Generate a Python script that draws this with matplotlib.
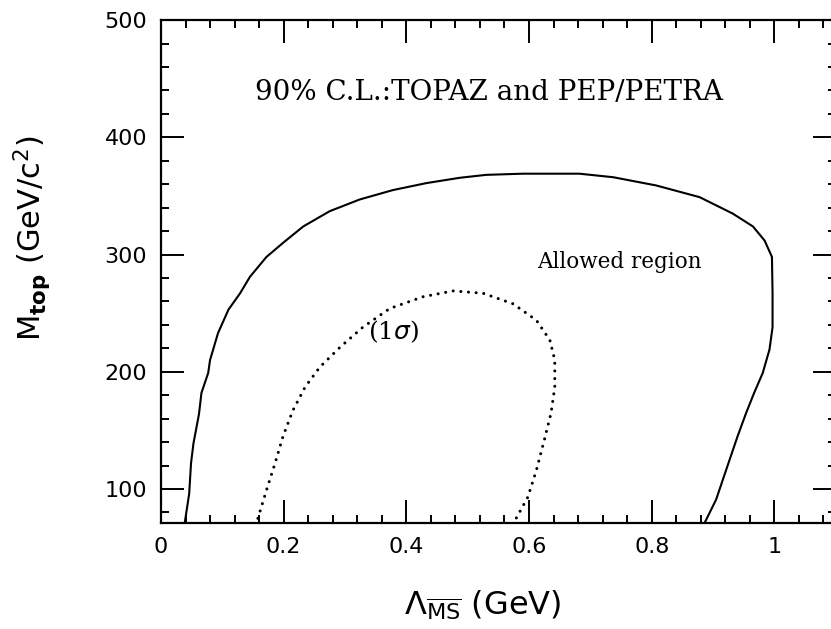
import matplotlib.pyplot as plt
from matplotlib.ticker import MultipleLocator

# 90% C.L. contour (solid), traced from lower-left, over the top, down the right side
cl90_x = [0.039, 0.046, 0.049, 0.053, 0.062, 0.066, 0.077, 0.080, 0.093, 0.110,
          0.129, 0.145, 0.172, 0.199, 0.232, 0.275, 0.324, 0.378, 0.433, 0.487,
          0.530, 0.590, 0.682, 0.737, 0.807, 0.878, 0.932, 0.965, 0.984, 0.996,
          0.997, 0.997, 0.992, 0.981, 0.967, 0.954, 0.940, 0.927, 0.916, 0.905,
          0.889, 0.886]
cl90_y = [72, 96, 122, 139, 164, 182, 199, 210, 233, 253,
          267, 281, 298, 310, 324, 337, 347, 355, 361, 365.5,
          368, 369, 369, 366, 359, 349, 335, 324, 312, 298,
          267, 238, 219, 199, 182, 165, 145, 125, 108, 91,
          74, 71]

# 1 sigma contour (dotted)
sig1_x = [0.158, 0.172, 0.186, 0.199, 0.215, 0.235, 0.259, 0.292, 0.329, 0.373,
          0.427, 0.476, 0.525, 0.574, 0.612, 0.634, 0.642, 0.642, 0.636, 0.625,
          0.612, 0.598, 0.579]
sig1_y = [75, 99, 122, 145, 167, 187, 204, 221, 238, 254,
          264, 269, 267, 258, 244, 227, 210, 187, 165, 142,
          116, 93, 75]

xlim = (0, 1.1)
ylim = (71, 500)

fig = plt.figure(figsize=(8.31, 6.29), dpi=100)
ax = fig.add_axes([0.1937, 0.1685, 0.812, 0.7995])

ax.plot(cl90_x, cl90_y, color='black', linewidth=1.5)
ax.plot(sig1_x, sig1_y, color='black', linewidth=2.2, linestyle=(0, (0.01, 2.5)),
        dash_capstyle='round')

ax.set_xlim(*xlim)
ax.set_ylim(*ylim)

ax.xaxis.set_minor_locator(MultipleLocator(0.04))
ax.yaxis.set_minor_locator(MultipleLocator(20))
ax.set_xticks([0, 0.2, 0.4, 0.6, 0.8, 1.0])
ax.set_xticklabels(['0', '0.2', '0.4', '0.6', '0.8', '1'])
ax.set_yticks([100, 200, 300, 400, 500])

ax.tick_params(which='both', direction='in', top=True, right=True, width=1.4,
               labelsize=16, pad=10)
ax.tick_params(which='major', length=16.5)
ax.tick_params(which='minor', length=5.8)
for s in ax.spines.values():
    s.set_linewidth(1.6)

ax.set_xlabel(r'$\Lambda_{\overline{\rm MS}}$ (GeV)', fontsize=23)
ax.xaxis.set_label_coords(0.477, -0.13)
ax.set_ylabel(r'M$_{\mathbf{top}}$ (GeV/c$^2$)', fontsize=22)
ax.yaxis.set_label_coords(-0.16, 0.567)

ax.text(0.534, 438, '90% C.L.:TOPAZ and PEP/PETRA', family='DejaVu Serif',
        fontsize=20, ha='center', va='center')
ax.text(0.748, 294, 'Allowed region', family='DejaVu Serif', fontsize=15.5,
        ha='center', va='center')
ax.text(0.380, 234, r'(1$\sigma$)', family='DejaVu Serif', fontsize=18,
        ha='center', va='center')

fig.savefig('out.png', dpi=100)
